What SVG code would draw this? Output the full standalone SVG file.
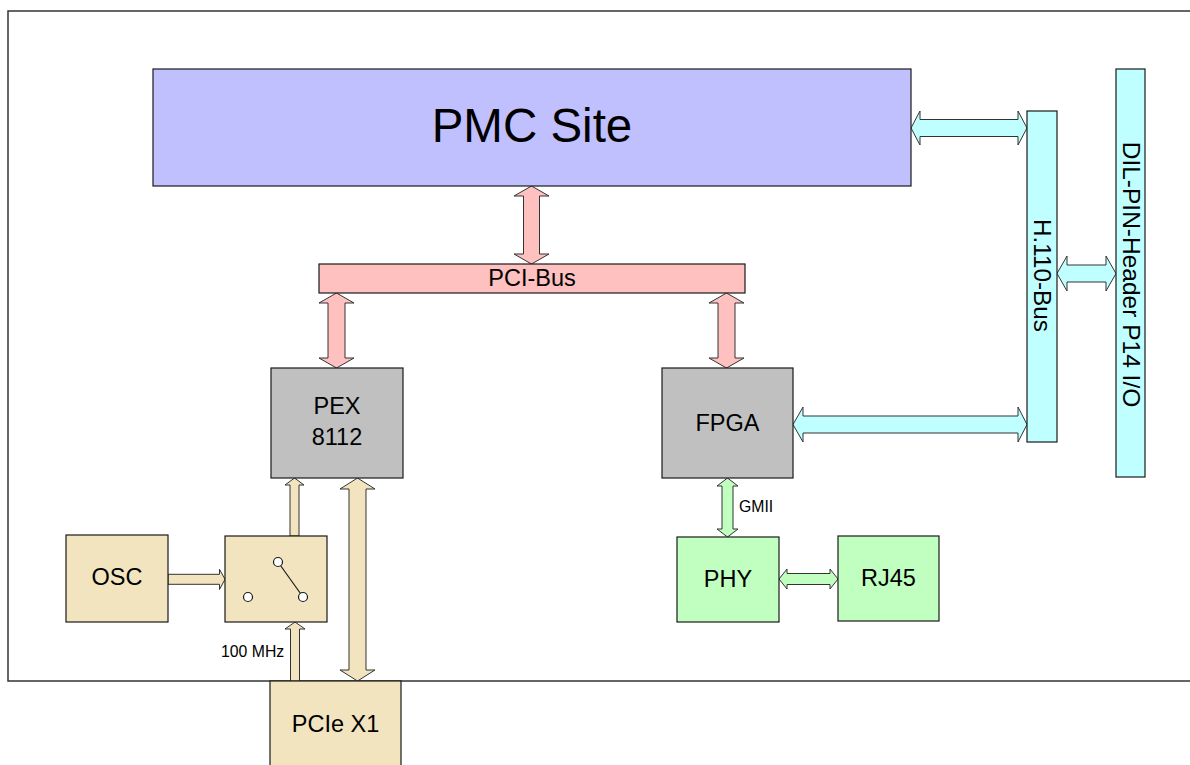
<svg xmlns="http://www.w3.org/2000/svg" width="1190" height="765" viewBox="0 0 1190 765">
  <style>
    .box { stroke: #1a1a1a; stroke-width: 1.2; }
    .arr { stroke: #333333; stroke-width: 1; stroke-linejoin: miter; }
    .lbl { font-family: "Liberation Sans", Arial, sans-serif; fill: #000000; text-anchor: middle; }
    .small { font-family: "Liberation Sans", Arial, sans-serif; fill: #000000; font-size: 15.8px; }
    .pmc { fill: #c0c0ff; }
    .pci { fill: #ffc0c0; }
    .cyan { fill: #c0ffff; }
    .grey { fill: #c0c0c0; }
    .tan { fill: #f2e4be; }
    .green { fill: #c0ffc0; }
  </style>

  <rect width="1190" height="765" fill="#ffffff"/>

  <!-- board outline -->
  <rect id="board" x="8" y="11" width="1200" height="670" fill="none" stroke="#333333" stroke-width="1.5"/>

  <!-- connectors -->
  <g id="connectors">
    <!-- PMC Site <-> PCI-Bus -->
    <polygon class="arr pci" points="531.5,186 549,196 539.5,196 539.5,254 549,254 531.5,264 514,254 523.5,254 523.5,196 514,196"/>
    <!-- PCI-Bus <-> PEX 8112 -->
    <polygon class="arr pci" points="336.5,293 354,303 345,303 345,358 354,358 336.5,368 319,358 328,358 328,303 319,303"/>
    <!-- PCI-Bus <-> FPGA -->
    <polygon class="arr pci" points="726.5,293 744,303 735,303 735,358 744,358 726.5,368 709,358 718,358 718,303 709,303"/>
    <!-- PMC Site <-> H.110-Bus -->
    <polygon class="arr cyan" points="911,128 920,111 920,119.5 1018,119.5 1018,111 1027,128 1018,145 1018,136.5 920,136.5 920,145"/>
    <!-- H.110-Bus <-> DIL-PIN-Header -->
    <polygon class="arr cyan" points="1057,273.5 1067,256 1067,265 1106,265 1106,256 1116,273.5 1106,291 1106,282 1067,282 1067,291"/>
    <!-- FPGA <-> H.110-Bus -->
    <polygon class="arr cyan" points="793,424.5 803,407 803,416 1018,416 1018,407 1027,424.5 1018,442 1018,433 803,433 803,442"/>
    <!-- FPGA <-> PHY (GMII) -->
    <polygon class="arr green" points="727.5,478 738,486 733,486 733,529 738,529 727.5,537 717,529 722,529 722,486 717,486"/>
    <!-- PHY <-> RJ45 -->
    <polygon class="arr green" points="779,579 787,569 787,573.5 830,573.5 830,569 838,579 830,589 830,584.5 787,584.5 787,589"/>
    <!-- OSC -> clock switch -->
    <polygon class="arr tan" points="168,574.3 219.5,574.3 219.5,569.3 225,579.3 219.5,589.5 219.5,584.3 168,584.3"/>
    <!-- clock switch -> PEX 8112 -->
    <polygon class="arr tan" points="294.5,478 304,485 299,485 299,536 290,536 290,485 285,485"/>
    <!-- PCIe X1 -> clock switch (100 MHz) -->
    <polygon class="arr tan" points="295,622 305,629 299.5,629 299.5,681 290.5,681 290.5,629 285,629"/>
    <!-- PCIe X1 <-> PEX 8112 -->
    <polygon class="arr tan" points="357.5,478 375,489 366,489 366,670 375,670 357.5,681 340,670 349,670 349,489 340,489"/>
    <text class="small" x="739" y="512">GMII</text>
    <text class="small" x="221" y="657">100 MHz</text>
  </g>

  <!-- nodes -->
  <g id="pmc-site">
    <rect class="box pmc" x="153" y="69" width="758" height="117"/>
    <text class="lbl" x="532" y="142" font-size="47.5">PMC Site</text>
  </g>

  <g id="pci-bus">
    <rect class="box pci" x="319" y="264" width="426" height="29"/>
    <text class="lbl" x="532" y="286" font-size="23.5">PCI-Bus</text>
  </g>

  <g id="h110-bus">
    <rect class="box cyan" x="1027" y="111" width="30" height="331"/>
    <text class="lbl" font-size="24.3" transform="translate(1033.5,275.5) rotate(90)">H.110-Bus</text>
  </g>

  <g id="dil-pin-header">
    <rect class="box cyan" x="1116" y="69" width="29" height="408"/>
    <text class="lbl" font-size="24.5" transform="translate(1123,274.5) rotate(90)">DIL-PIN-Header P14 I/O</text>
  </g>

  <g id="pex8112">
    <rect class="box grey" x="271" y="368" width="132" height="110"/>
    <text class="lbl" x="337" y="414" font-size="23.5">PEX</text>
    <text class="lbl" x="337" y="445" font-size="23.5">8112</text>
  </g>

  <g id="fpga">
    <rect class="box grey" x="662" y="368" width="131" height="110"/>
    <text class="lbl" x="727.5" y="431" font-size="23.5">FPGA</text>
  </g>

  <g id="phy">
    <rect class="box green" x="677" y="537" width="102" height="85"/>
    <text class="lbl" x="728" y="587" font-size="23.5">PHY</text>
  </g>

  <g id="rj45">
    <rect class="box green" x="838" y="536" width="101" height="85"/>
    <text class="lbl" x="888.5" y="586" font-size="23.5">RJ45</text>
  </g>

  <g id="osc">
    <rect class="box tan" x="66" y="535" width="102" height="87"/>
    <text class="lbl" x="117" y="585" font-size="23.5">OSC</text>
  </g>

  <g id="clock-switch">
    <rect class="box tan" x="225" y="536" width="102" height="86"/>
    <line x1="278" y1="562" x2="303" y2="597" stroke="#1a1a1a" stroke-width="1.2"/>
    <circle cx="278" cy="562" r="4.5" fill="#ffffff" stroke="#1a1a1a" stroke-width="1.2"/>
    <circle cx="248" cy="597" r="4.5" fill="#ffffff" stroke="#1a1a1a" stroke-width="1.2"/>
    <circle cx="303" cy="597" r="4.5" fill="#ffffff" stroke="#1a1a1a" stroke-width="1.2"/>
  </g>

  <g id="pcie-x1">
    <rect class="box tan" x="270" y="681" width="131" height="95"/>
    <text class="lbl" x="335.5" y="732" font-size="23.5">PCIe X1</text>
  </g>
</svg>
